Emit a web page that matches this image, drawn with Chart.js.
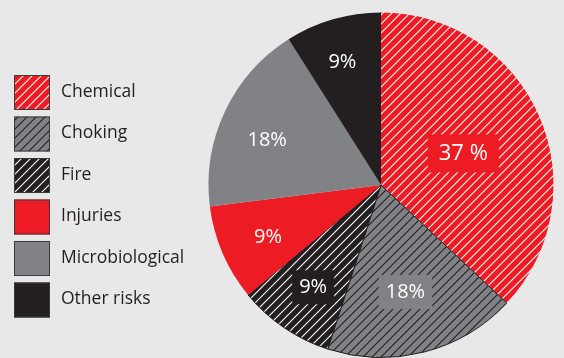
<!DOCTYPE html>
<html>
<head>
<meta charset="utf-8">
<script src="https://cdn.jsdelivr.net/npm/chart.js@4/dist/chart.umd.min.js"></script>
<style>
    html, body { margin: 0; padding: 0; background: #e8e8e8; }
    #wrap { width: 564px; height: 358px; position: relative; }
</style>
</head>
<body>
<div id="wrap"><canvas id="riskChart"></canvas></div>
<script>
const categories = ['Chemical', 'Choking', 'Fire', 'Injuries', 'Microbiological', 'Other risks'];
const shares = [37, 18, 9, 9, 18, 9];
const shareLabels = ['37 %', '18%', '9%', '9%', '18%', '9%'];

const RED = '#ed1c24';
const GREY = '#808285';
const BLACK = '#231f20';
const baseColors = [RED, GREY, BLACK, RED, GREY, BLACK];
const hatched = [true, true, true, false, false, false];

// diagonal hatch tile
function hatch(bg, line) {
    const size = 9;
    const c = document.createElement('canvas');
    c.width = size; c.height = size;
    const g = c.getContext('2d');
    g.fillStyle = bg;
    g.fillRect(0, 0, size, size);
    g.strokeStyle = line;
    g.lineWidth = 1.1;
    g.beginPath();
    g.moveTo(-1, size + 1); g.lineTo(size + 1, -1);
    g.moveTo(-2, 2); g.lineTo(2, -2);
    g.moveTo(size - 2, size + 2); g.lineTo(size + 2, size - 2);
    g.stroke();
    return g.createPattern(c, 'repeat');
}

const fills = [
    hatch(RED, '#ffffff'),
    hatch(GREY, BLACK),
    hatch(BLACK, '#ffffff'),
    RED,
    GREY,
    BLACK
];

// label distance from centre (fraction of radius) and small pixel nudges
const labelRadius = [0.52, 0.64, 0.71, 0.72, 0.71, 0.74];
const labelNudge = [[0, 4], [-3, 0], [1, 1], [1, 3], [-3, 7], [-3, 0]];

const sliceLabels = {
    id: 'sliceLabels',
    afterDatasetsDraw(chart) {
        const ctx = chart.ctx;
        const meta = chart.getDatasetMeta(0);
        ctx.save();
        ctx.textAlign = 'center';
        ctx.textBaseline = 'middle';
        meta.data.forEach((arc, i) => {
            const mid = (arc.startAngle + arc.endAngle) / 2;
            const r = arc.outerRadius * labelRadius[i];
            const x = arc.x + Math.cos(mid) * r + labelNudge[i][0];
            const y = arc.y + Math.sin(mid) * r + labelNudge[i][1];
            ctx.font = i === 0 ? '22px "Open Sans"' : '20px "Open Sans"';
            if (hatched[i]) {
                const w = ctx.measureText(shareLabels[i]).width + (i === 0 ? 22 : 14);
                const h = i === 0 ? 38 : 34;
                ctx.fillStyle = baseColors[i];
                ctx.fillRect(x - w / 2, y - h / 2, w, h);
            }
            ctx.fillStyle = '#ffffff';
            ctx.fillText(shareLabels[i], x, y);
        });
        ctx.restore();
    }
};

const sideLegend = {
    id: 'sideLegend',
    afterDraw(chart) {
        const ctx = chart.ctx;
        ctx.save();
        ctx.textBaseline = 'middle';
        ctx.font = '17.5px "Open Sans"';
        categories.forEach((name, i) => {
            const y = 75 + i * 41.5;
            ctx.fillStyle = fills[i];
            ctx.fillRect(14, y, 36, 35);
            ctx.strokeStyle = '#3a3a3a';
            ctx.lineWidth = 1;
            ctx.strokeRect(14.5, y + 0.5, 35, 34);
            ctx.fillStyle = BLACK;
            ctx.fillText(name, 61, y + 17);
        });
        ctx.restore();
    }
};

new Chart(document.getElementById('riskChart'), {
    type: 'pie',
    data: {
        labels: categories,
        datasets: [{
            data: shares,
            backgroundColor: fills,
            borderColor: BLACK,
            borderWidth: [0, 1, 1, 0, 0, 0]
        }]
    },
    options: {
        responsive: true,
        maintainAspectRatio: false,
        animation: false,
        events: [],
        layout: { padding: { left: 208, right: 10, top: 12, bottom: 0 } },
        plugins: {
            legend: { display: false },
            tooltip: { enabled: false }
        }
    },
    plugins: [sliceLabels, sideLegend]
});
</script>
</body>
</html>
